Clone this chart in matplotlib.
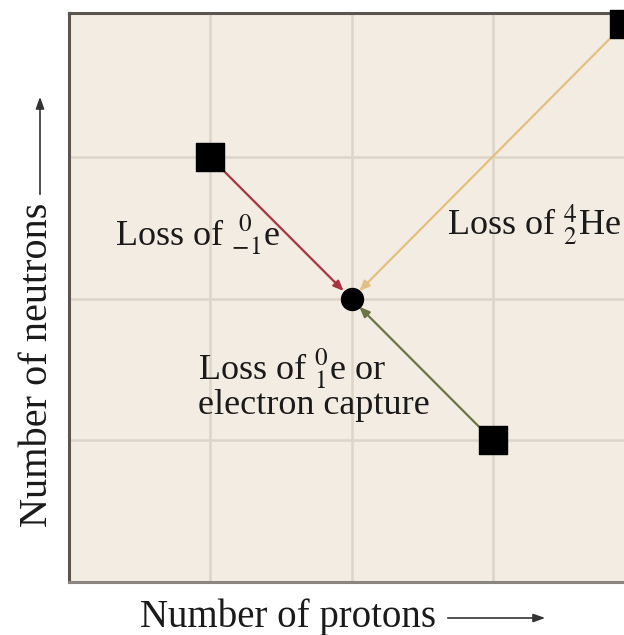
import matplotlib
matplotlib.use("Agg")
import matplotlib.pyplot as plt
from matplotlib.patches import FancyArrowPatch

# Data (protons, neutrons) in grid units
center = (2.0, 2.0)
start_beta_minus = (1.0, 3.0)
start_beta_plus = (3.0, 1.0)
start_alpha = (3.93, 3.94)
grid_ticks = [1, 2, 3]

label_beta_minus = r"Loss of ${}^{\ 0}_{-1}$e"
label_alpha = r"Loss of ${}^{4}_{2}$He"
label_beta_plus_1 = r"Loss of ${}^{0}_{1}$e or"
label_beta_plus_2 = "electron capture"
xlabel = "Number of protons"
ylabel = "Number of neutrons"

plt.rcParams['font.family'] = ['Liberation Serif', 'DejaVu Serif']
plt.rcParams['mathtext.fontset'] = 'stix'

fig = plt.figure(figsize=(6.24, 6.35), dpi=100)
fig.patch.set_facecolor('white')
ax = fig.add_axes([69/624, 53/635, 565/624, 569/635])
ax.set_facecolor('#f2ece2')
ax.set_xlim(0, 4)
ax.set_ylim(0, 4.02)
ax.set_xticks(grid_ticks)
ax.set_yticks(grid_ticks)
ax.tick_params(length=0, labelbottom=False, labelleft=False)
ax.grid(True, color='#ddd5ca', linewidth=1.8)
ax.set_axisbelow(True)
for side, sp in ax.spines.items():
    sp.set_linewidth(2.2)
    sp.set_color('#5a5550')
ax.spines['bottom'].set_color('#8a8580')

def arrow(start, color):
    ax.annotate("", xy=center, xytext=start,
                arrowprops=dict(arrowstyle='-|>,head_length=0.6,head_width=0.25',
                                color=color, lw=1.6, shrinkA=11, shrinkB=8),
                zorder=3)

arrow(start_beta_minus, '#a8343f')
arrow(start_alpha, '#e4bf82')
arrow(start_beta_plus, '#6b7444')

sq = [start_beta_minus, start_beta_plus, start_alpha]
ax.scatter([p[0] for p in sq], [p[1] for p in sq], marker='s', s=400,
           color='black', zorder=4, clip_on=False)
ax.scatter([center[0]], [center[1]], marker='o', s=250, color='black', zorder=4)

tc = '#1a1a1a'
ax.text(0.325, 2.38, label_beta_minus, fontsize=26, va='baseline', ha='left', color=tc)
ax.text(2.675, 2.45, label_alpha, fontsize=26, va='baseline', ha='left', color=tc)
ax.text(0.91, 1.43, label_beta_plus_1, fontsize=26, va='baseline', ha='left', color=tc)
ax.text(0.91, 1.19, label_beta_plus_2, fontsize=26, va='baseline', ha='left', color=tc)

# axis labels with arrows
fig.text(140/624, 1 - 627/635, xlabel, fontsize=28, va='baseline', ha='left', color=tc)
fig.add_artist(FancyArrowPatch(
    (445/624, 1 - 618/635), (548/624, 1 - 618/635), transform=fig.transFigure,
    arrowstyle='-|>,head_length=7,head_width=2.5', color='#333333', lw=1.2,
    mutation_scale=1))
fig.text(38/624, 1 - 365/635, ylabel, fontsize=29, va='center', ha='center',
         rotation=90, color=tc)
fig.add_artist(FancyArrowPatch(
    (40/624, 1 - 197/635), (40/624, 1 - 94/635), transform=fig.transFigure,
    arrowstyle='-|>,head_length=7,head_width=2.5', color='#333333', lw=1.2,
    mutation_scale=1))

fig.savefig('out.png', dpi=100, facecolor='white')
